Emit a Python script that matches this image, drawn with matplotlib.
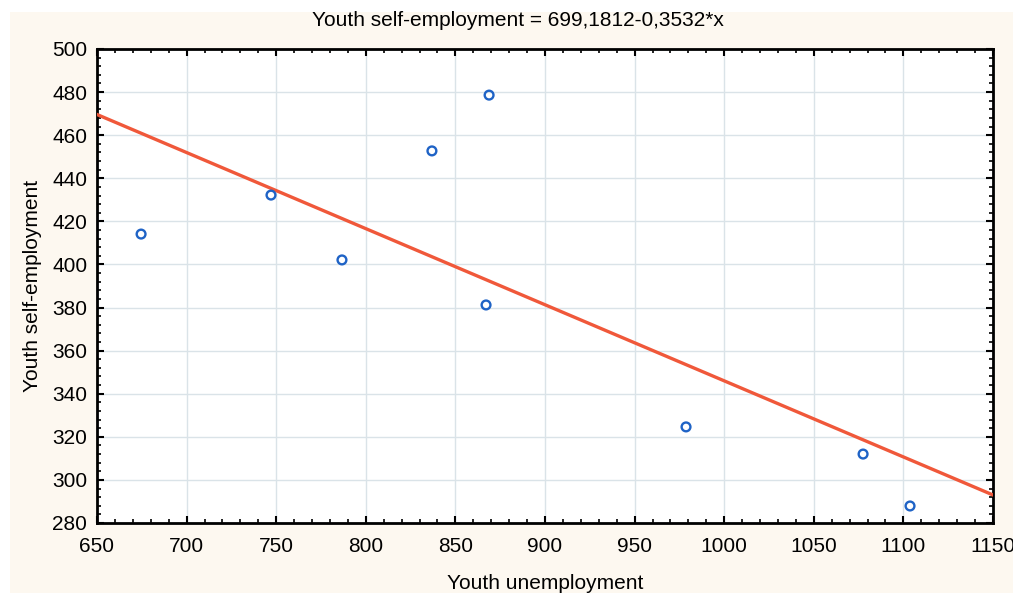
import matplotlib
matplotlib.use('Agg')
import matplotlib.pyplot as plt
from matplotlib.patches import Rectangle
from matplotlib.ticker import MultipleLocator
import numpy as np

plt.rcParams['font.family'] = ['Liberation Sans', 'DejaVu Sans']

# data
unemployment = [674.6, 747.1, 786.7, 836.9, 868.8, 867.1, 978.7, 1077.5, 1103.7]
self_employment = [414.1, 432.2, 402.1, 452.7, 478.6, 381.2, 324.6, 312.0, 287.9]
intercept = 699.1812
slope = -0.3532

fig = plt.figure(figsize=(10.13, 5.93), dpi=100)
fig.patch.set_facecolor('white')
fig.patches.append(Rectangle((10 / 1013, 0), 1, (593 - 12) / 593,
                             transform=fig.transFigure, facecolor='#fdf8f0',
                             edgecolor='none', zorder=-10))

ax = fig.add_axes([97 / 1013, 70 / 593, 896 / 1013, 474 / 593])
ax.set_facecolor('white')

xs = np.array([650, 1150])
ax.plot(xs, intercept + slope * xs, color='#f0583a', lw=2.4, zorder=3)
ax.scatter(unemployment, self_employment, s=40, facecolors='none',
           edgecolors='#1f63c6', linewidths=1.7, zorder=4)

ax.set_xlim(650, 1150)
ax.set_ylim(280, 500)
ax.xaxis.set_major_locator(MultipleLocator(50))
ax.xaxis.set_minor_locator(MultipleLocator(10))
ax.yaxis.set_major_locator(MultipleLocator(20))
ax.yaxis.set_minor_locator(MultipleLocator(4))
ax.tick_params(which='both', direction='in', top=True, right=True, color='black')
ax.tick_params(which='major', length=5, width=1.5, labelsize=15)
ax.tick_params(axis='x', which='major', pad=10)
ax.tick_params(axis='y', which='major', pad=7)
ax.tick_params(which='minor', length=3, width=1.2)
ax.grid(True, which='major', color='#dae3e8', lw=1)
ax.set_axisbelow(True)
for sp in ax.spines.values():
    sp.set_linewidth(2)

ax.set_xlabel('Youth unemployment', fontsize=15, labelpad=13)
ax.set_ylabel('Youth self-employment', fontsize=15, labelpad=7)
fig.text(518 / 1013, 1 - 20 / 593, 'Youth self-employment = 699,1812-0,3532*x',
         fontsize=15, ha='center', va='center')

fig.savefig('out.png', dpi=100, facecolor=fig.get_facecolor())
